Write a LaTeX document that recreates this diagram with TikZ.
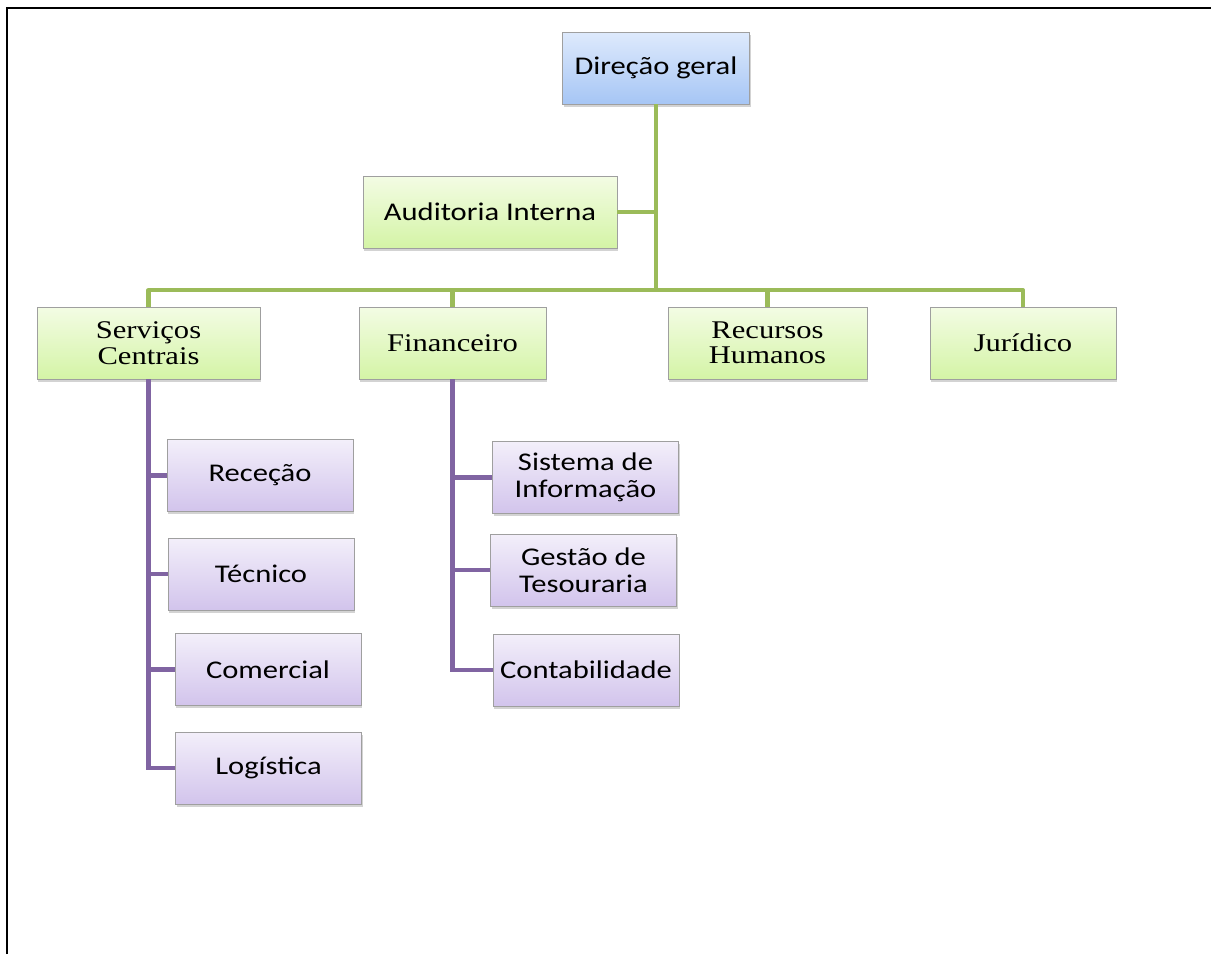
\documentclass[tikz,border=0pt]{standalone}
\usepackage{fontspec}
\newfontfamily\boxsans[FakeStretch=1.2]{Carlito}
\newfontfamily\boxserif[FakeStretch=1.2]{Liberation Serif}
\usetikzlibrary{positioning, shadows}

\definecolor{linegreen}{RGB}{155,187,89}
\definecolor{linepurple}{RGB}{128,100,162}

\begin{document}
\begin{tikzpicture}[
    unit/.style={draw=gray!75, line width=0.5pt, minimum height=1.44cm, align=center, inner sep=2pt,
        drop shadow={shadow xshift=0.8pt, shadow yshift=-1.6pt, opacity=0.35}},
    head/.style={unit, top color={rgb,255:red,222;green,234;blue,252}, bottom color={rgb,255:red,166;green,198;blue,245},
        font=\boxsans\fontsize{14.5}{15}\selectfont},
    staff/.style={unit, top color={rgb,255:red,243;green,252;blue,228}, bottom color={rgb,255:red,212;green,244;blue,166},
        font=\boxsans\fontsize{14.5}{15}\selectfont},
    dept/.style={staff, font=\boxserif\fontsize{14.5}{14.5}\selectfont},
    section/.style={unit, top color={rgb,255:red,243;green,239;blue,250}, bottom color={rgb,255:red,210;green,196;blue,236},
        font=\boxsans\fontsize{14.5}{15.3}\selectfont, minimum width=3.72cm},
    greenline/.style={draw=linegreen, line width=2.3pt},
    purpleline/.style={draw=linepurple, line width=2.3pt}
]
    \useasboundingbox (0,0) rectangle (24.22,-19.08);
    \draw[line width=1.7pt] (0.14,-19.08) -- (0.14,-0.16) -- (24.22,-0.16);

    % top of the chart
    \node[head, minimum width=3.74cm]  (direcao)   at (13.12,-1.36) {Direção geral};
    \node[staff, minimum width=5.08cm] (auditoria) at (9.80,-4.24)  {Auditoria Interna};

    % departments
    \node[dept, minimum width=4.46cm] (servicos)   at (2.97,-6.86)  {Serviços\\Centrais};
    \node[dept, minimum width=3.74cm] (financeiro) at (9.05,-6.86)  {Financeiro};
    \node[dept, minimum width=3.98cm] (recursos)   at (15.35,-6.86) {Recursos\\Humanos};
    \node[dept, minimum width=3.72cm] (juridico)   at (20.46,-6.86) {Jurídico};

    % sections
    \node[section] (rececao)   at (5.20,-9.51)  {Receção};
    \node[section] (tecnico)   at (5.22,-11.48) {Técnico};
    \node[section] (comercial) at (5.36,-13.39) {Comercial};
    \node[section] (logistica) at (5.37,-15.36) {Logística};
    \node[section] (sistema)   at (11.71,-9.55)  {Sistema de\\Informação};
    \node[section] (gestao)    at (11.67,-11.40) {Gestão de\\Tesouraria};
    \node[section] (contab)    at (11.72,-13.40) {Contabilidade};

    \coordinate (bus) at (13.12,-5.80);

    \draw[greenline] (direcao.south) -- (bus);
    \draw[greenline] (auditoria.east) -- (auditoria.east -| direcao.south);
    \foreach \d in {servicos, financeiro, recursos, juridico}
        \draw[greenline, line join=round] (\d.north) |- (bus);

    \foreach \s in {rececao, tecnico, comercial, logistica}
        \draw[purpleline] (servicos.south) |- (\s.west);
    \foreach \s in {sistema, gestao, contab}
        \draw[purpleline] (financeiro.south) |- (\s.west);
\end{tikzpicture}
\end{document}
